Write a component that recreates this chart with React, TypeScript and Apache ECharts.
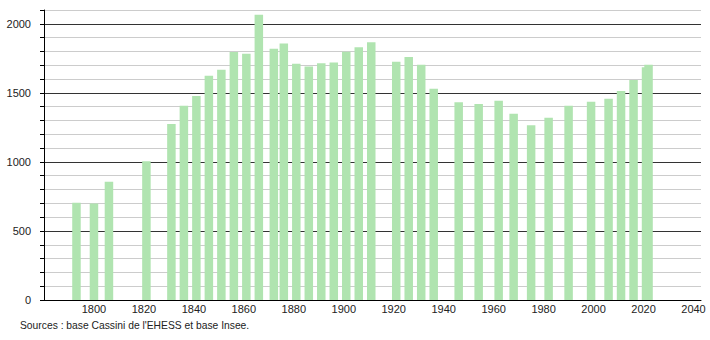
import React, { useEffect, useRef } from "react";
import * as echarts from "echarts";

const years = [
  1793, 1800, 1806, 1821, 1831, 1836, 1841, 1846, 1851, 1856, 1861, 1866, 1872,
  1876, 1881, 1886, 1891, 1896, 1901, 1906, 1911, 1921, 1926, 1931, 1936, 1946,
  1954, 1962, 1968, 1975, 1982, 1990, 1999, 2006, 2011, 2016, 2021, 2022,
];
const population = [
  705, 698, 857, 1005, 1275, 1406, 1478, 1623, 1667, 1795, 1783, 2065, 1819,
  1857, 1710, 1691, 1715, 1720, 1797, 1831, 1867, 1725, 1759, 1703, 1529, 1432,
  1420, 1442, 1348, 1266, 1319, 1406, 1435, 1457, 1514, 1594, 1685, 1703,
];
const yLabelValues = [0, 500, 1000, 1500, 2000];
const xLabelValues = [1800, 1820, 1840, 1860, 1880, 1900, 1920, 1940, 1960, 1980, 2000, 2020, 2040];
const sourceText = "Sources : base Cassini de l'EHESS et base Insee.";

export default function App() {
  const ref = useRef<HTMLDivElement>(null);
  useEffect(() => {
    document.body.style.margin = "0";
    const chart = echarts.init(ref.current!, null, { renderer: "svg" });
    const gridColors = ["#333333", "#cccccc", "#cccccc", "#cccccc", "#cccccc"];
    chart.setOption({
      animation: false,
      textStyle: { fontFamily: "Liberation Sans, Arial, sans-serif" },
      grid: { left: 44, right: 9, top: 10, bottom: 40, containLabel: false },
      xAxis: {
        type: "value",
        min: 1780,
        max: 2043,
        interval: 20,
        axisLine: { show: true, lineStyle: { color: "#000", width: 1 } },
        axisTick: { show: false },
        splitLine: { show: false },
        axisLabel: {
          color: "#222",
          fontSize: 11,
          margin: 3,
          showMinLabel: false,
          showMaxLabel: false,
          formatter: (v: number) => (xLabelValues.includes(v) ? String(v) : ""),
        },
      },
      yAxis: {
        type: "value",
        min: 0,
        max: 2100,
        interval: 100,
        axisLine: { show: true, lineStyle: { color: "#000", width: 1 } },
        axisTick: { show: true, length: 4, lineStyle: { color: "#000" } },
        splitLine: { show: true, lineStyle: { color: gridColors, width: 1 } },
        axisLabel: {
          color: "#222",
          fontSize: 11,
          margin: 13,
          formatter: (v: number) => (yLabelValues.includes(v) ? String(v) : ""),
        },
      },
      series: [
        {
          type: "bar",
          barWidth: 8.5,
          itemStyle: { color: "#b0e4b0" },
          data: years.map((y, i) => [y, population[i]]),
        },
      ],
      graphic: [
        {
          type: "text",
          left: 20,
          top: 320,
          style: {
            text: sourceText,
            fontSize: 10.3,
            fill: "#222",
            fontFamily: "Liberation Sans, Arial, sans-serif",
          },
        },
      ],
    });
    return () => chart.dispose();
  }, []);
  return (
    <div
      ref={ref}
      style={{ position: "absolute", left: 0, top: 0, width: 710, height: 340 }}
    />
  );
}
